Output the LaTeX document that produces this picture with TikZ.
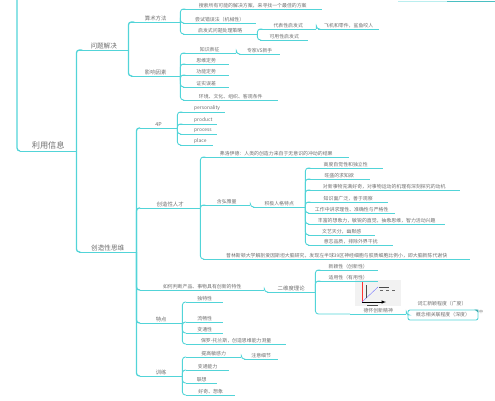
\documentclass[tikz,border=0pt]{standalone}
\usepackage{fontspec}
\setmainfont{Noto Sans CJK SC}
\definecolor{branch}{HTML}{52D4D8}
\definecolor{ink}{HTML}{6E6E6E}
\tikzset{
  topic/.style={anchor=south west, inner xsep=0pt, inner ysep=1.2pt, text=ink,
    font=\fontsize{4.9}{5}\selectfont},
  minor/.style={topic, font=\fontsize{5.4}{6}\selectfont},
  major/.style={topic, font=\fontsize{6.6}{7}\selectfont},
  link/.style={draw=branch, line width=0.9pt, rounded corners=3pt},
  trunk/.style={link, line width=1.3pt},
  under/.style={draw=branch, line width=0.9pt},
}
\begin{document}
\begin{tikzpicture}[x=1pt, y=-1pt]
  \useasboundingbox (0,0) rectangle (495,400);
  % root and main branches
  \coordinate (up) at (17,0);
  \node[topic, font=\fontsize{8.2}{9}\selectfont, minimum width=56pt] (root) at (20,151) {利用信息};
  \node[major, minimum width=49pt] (pj) at (79,50) {问题解决};
  \node[major, minimum width=57pt] (cx) at (79,252) {创造性思维};
  % problem solving
  \node[minor, minimum width=49pt] (sf) at (131,22) {算术方法};
  \node[minor, minimum width=49pt] (yx) at (131,76) {影响因素};
  \node[topic, minimum width=139pt] (s1) at (183,9) {搜索所有可能的解决方案，来寻找一个最佳的方案};
  \node[topic, minimum width=73pt] (s2) at (183,23) {尝试错误法（机械性）};
  \node[topic, minimum width=74pt] (s3) at (183,34) {启发式问题处理策略};
  \node[topic, minimum width=56pt] (q1) at (260,29) {代表性启发式};
  \node[topic, minimum width=48pt] (q2) at (260,40) {可用性启发式};
  \node[topic, minimum width=61pt] (q3) at (318,29) {飞机和零件，鲨鱼咬人};
  \node[topic, minimum width=53pt] (y1) at (183,53) {知识表征};
  \node[topic, minimum width=41pt] (y1a) at (239,54) {专家VS新手};
  \node[topic, minimum width=46pt] (y2) at (183,64) {思维定势};
  \node[topic, minimum width=46pt] (y3) at (183,75) {功能定势};
  \node[topic, minimum width=46pt] (y4) at (183,87) {证实误差};
  \node[topic, minimum width=95pt] (y5) at (183,100) {环境、文化、组织、客观条件};
  % creative thinking
  \node[minor, minimum width=37pt] (fp) at (140,128) {4P};
  \node[topic, minimum width=45pt, text width=45pt] (p1) at (180,112) {\hspace*{14pt}personality};
  \node[topic, minimum width=37pt, text width=37pt] (p2) at (180,124) {\hspace*{14pt}product};
  \node[topic, minimum width=37pt, text width=37pt] (p3) at (180,134) {\hspace*{14pt}process};
  \node[topic, minimum width=33pt, text width=33pt] (p4) at (180,145) {\hspace*{14pt}place};
  \node[minor, minimum width=60pt] (rc) at (140,208) {创造性人才};
  \node[topic, minimum width=146pt] (r1) at (203,157) {弗洛伊德：人类的创造力来自于无意识的冲动的结果};
  \node[topic, minimum width=47pt] (r2) at (203,205) {含弘雅量};
  \node[topic, minimum width=52pt] (r2a) at (253,207) {积极人格特点};
  \node[topic, minimum width=75pt] (k1) at (308,168) {高度自觉性和独立性};
  \node[topic, minimum width=62pt] (k2) at (308,179) {旺盛的求知欲};
  \node[topic, minimum width=152pt] (k3) at (308,190) {对新事物充满好奇，对事物运动的机理有深刻探究的动机};
  \node[topic, minimum width=80pt] (k4) at (308,202) {知识面广泛，善于观察};
  \node[topic, minimum width=87pt] (k5) at (308,213) {工作中讲求理性、准确性与严格性};
  \node[topic, minimum width=137pt] (k6) at (308,224) {丰富的想象力，敏锐的直觉，抽象思维，智力活动兴趣};
  \node[topic, minimum width=67pt] (k7) at (308,235) {文艺天分，幽默感};
  \node[topic, minimum width=85pt] (k8) at (308,245) {意志品质，排除外界干扰};
  \node[topic, minimum width=267pt] (r3) at (203,259) {普林斯顿大学解剖爱因斯坦大脑研究，发现左半球39区神经细胞与胶质细胞比例小，即大脑新陈代谢快};
  \node[topic, minimum width=124pt] (ju) at (140,290) {如何判断产品、事物具有创新的特性};
  \node[minor, minimum width=48pt] (ew) at (267,292) {二维度理论};
  \node[topic, minimum width=60pt] (e1) at (318,270) {新颖性（创新性）};
  \node[topic, minimum width=60pt] (e2) at (318,281) {适用性（有用性）};
  \node[topic, minimum width=56pt] (e3) at (350,314) {德怀创新精神};
  \node[topic, anchor=center, draw=branch, line width=0.9pt, rounded corners=2pt,
    minimum width=70pt, minimum height=10pt] (bx) at (443,315) {概念相关联程度（深度）};
  \node[topic, anchor=center] (cv) at (442,304) {词汇新颖程度（广度）};
  \node[topic, anchor=west, font=\fontsize{4}{4}\selectfont] (mk) at (479,312) {中};
  \fill[branch!80!black] (bx.north east) ++(-4,0) -- ++(4,0) -- ++(0,3) -- cycle;
  \node[minor, minimum width=42pt] (td) at (140,323) {特点};
  \node[topic, minimum width=37pt] (t1) at (186,302) {独特性};
  \node[topic, minimum width=37pt] (t2) at (186,322) {流畅性};
  \node[topic, minimum width=37pt] (t3) at (186,333) {变通性};
  \node[topic, minimum width=100pt] (t4) at (186,344) {保罗-托兰斯，创造思维能力测量};
  \node[minor, minimum width=42pt] (xl) at (140,376) {训练};
  \node[topic, minimum width=55pt] (x1) at (186,357) {提高敏感力};
  \node[topic, minimum width=34pt] (x1a) at (244,359) {注意细节};
  \node[topic, minimum width=43pt] (x2) at (186,370) {变通能力};
  \node[topic, minimum width=31pt] (x3) at (186,383) {联想};
  \node[topic, minimum width=49pt] (x4) at (186,395) {好奇、想象};
  % chart picture above e3
  \fill[gray!10] (355,280) rectangle (401,306);
  \draw[red!80, line width=0.7pt] (362,282) -- (362,302);
  \draw[-latex, line width=0.5pt] (362,302) -- (386,302);
  \draw[blue!55, line width=0.4pt] (362,302) -- (378,287);
  \draw[black!70, line width=0.8pt] (366,285) -- (366,298);
  \draw[black!70, line width=0.8pt] (379,287) -- (389,287);
  \draw[black!60, line width=0.4pt, dashed] (380,290) -- (397,290);
  \draw[black!70, line width=0.8pt] (367,305) -- (378,305);
  % fragments of the map above
  \coordinate (fa) at (398,1);
  \coordinate (fb) at (447,1);
  \coordinate (fc) at (495,1);
  \draw[under, branch!40] (fa) -- (fb);
  \draw[under, branch!90!black] (fb) -- (fc);
  % underlines
  \foreach \n in {root,pj,cx,sf,yx,s1,s2,s3,q1,q2,q3,y1,y1a,y2,y3,y4,y5,
      fp,p1,p2,p3,p4,rc,r1,r2,r2a,k1,k2,k3,k4,k5,k6,k7,k8,r3,ju,ew,e1,e2,e3,
      td,t1,t2,t3,t4,xl,x1,x1a,x2,x3,x4}
    \draw[under] (\n.south west) -- (\n.south east);
  % connectors
  \draw[trunk] (up) |- (root.south west);
  \foreach \p/\c in {root/pj,root/cx,pj/sf,pj/yx,cx/fp,cx/rc,cx/ju,cx/td,cx/xl}
    \draw[trunk] (\p.south east) |- (\c.south west);
  \foreach \p/\c in {sf/s1,sf/s2,sf/s3,s3/q1,s3/q2,q1/q3,yx/y1,y1/y1a,yx/y2,yx/y3,
      yx/y4,yx/y5,fp/p1,fp/p2,fp/p3,fp/p4,rc/r1,rc/r2,rc/r3,r2/r2a,r2a/k1,r2a/k2,
      r2a/k3,r2a/k4,r2a/k5,r2a/k6,r2a/k7,r2a/k8,ju/ew,ew/e1,ew/e2,ew/e3,td/t1,
      td/t2,td/t3,td/t4,xl/x1,x1/x1a,xl/x2,xl/x3,xl/x4}
    \draw[link] (\p.south east) |- (\c.south west);
  \draw[link] (e3.south east) |- (bx.west);
\end{tikzpicture}
\end{document}
